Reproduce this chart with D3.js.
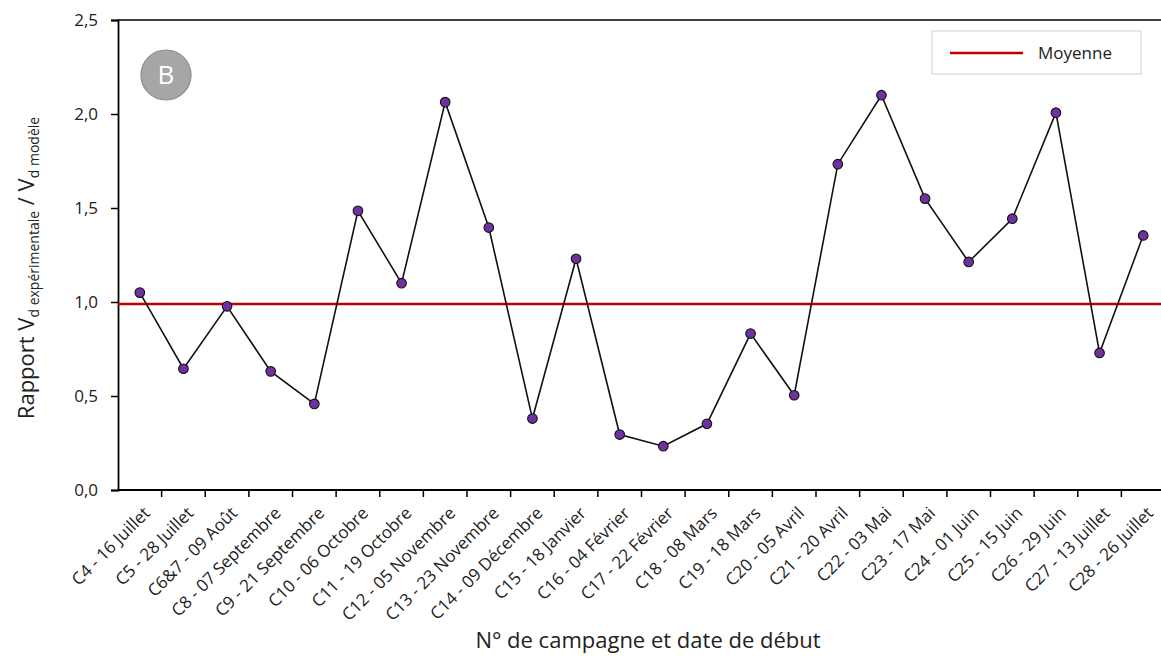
<!DOCTYPE html>
<html>
<head>
<meta charset="utf-8">
<script src="https://cdn.jsdelivr.net/npm/d3@7"></script>
<style>
  body { margin: 0; background: #fff; }
  text { font-family: "Open Sans", sans-serif; fill: #222; }
</style>
</head>
<body>
<div id="chart"></div>
<script>
// campagnes + date de debut
var campagnes = ["C4 - 16 Juillet", "C5 - 28 Juillet", "C6&7 - 09 Août", "C8 - 07 Septembre",
    "C9 - 21 Septembre", "C10 - 06 Octobre", "C11 - 19 Octobre", "C12 - 05 Novembre",
    "C13 - 23 Novembre", "C14 - 09 Décembre", "C15 - 18 Janvier", "C16 - 04 Février",
    "C17 - 22 Février", "C18 - 08 Mars", "C19 - 18 Mars", "C20 - 05 Avril",
    "C21 - 20 Avril", "C22 - 03 Mai", "C23 - 17 Mai", "C24 - 01 Juin",
    "C25 - 15 Juin", "C26 - 29 Juin", "C27 - 13 Juillet", "C28 - 26 Juillet"];

var rapport = [1.05, 0.645, 0.977, 0.631, 0.458, 1.485, 1.10, 2.063,
    1.396, 0.38, 1.23, 0.295, 0.233, 0.352, 0.832, 0.504,
    1.733, 2.10, 1.55, 1.213, 1.443, 2.007, 0.729, 1.354];

var moyenne = 0.99;
var yTicks = [0, 0.5, 1, 1.5, 2, 2.5];

var width = 1161,
    height = 657,
    mLeft = 118,
    mRight = 1165,
    mTop = 20,
    mBottom = 490;

var svg = d3.select("#chart")
    .append("svg")
    .attr("width", width)
    .attr("height", height);

var x = d3.scaleBand()
    .domain(campagnes)
    .range([mLeft, mRight]);

var y = d3.scaleLinear()
    .domain([0, 2.5])
    .range([mBottom, mTop]);

var fmt = function(d) { return d3.format(".1f")(d).replace(".", ","); };

// top border
svg.append("line")
    .attr("x1", mLeft).attr("x2", mRight)
    .attr("y1", mTop).attr("y2", mTop)
    .attr("stroke", "#000").attr("stroke-width", 1.5);

// y axis
var yAxis = svg.append("g")
    .attr("transform", "translate(" + mLeft + ",0)")
    .call(d3.axisLeft(y).tickValues(yTicks).tickFormat(fmt).tickSize(7).tickPadding(13));
yAxis.select(".domain").attr("stroke-width", 1.8);
yAxis.selectAll(".tick line").attr("stroke-width", 1.5);
yAxis.selectAll("text").style("font-size", "17px").attr("fill", "#222");

// x axis with ticks on band boundaries
var xAxis = svg.append("g")
    .attr("transform", "translate(0," + mBottom + ")");
xAxis.append("line")
    .attr("x1", mLeft).attr("x2", mRight)
    .attr("stroke", "#000").attr("stroke-width", 1.8);
xAxis.selectAll("line.tk")
    .data(campagnes.slice(1))
    .enter()
    .append("line")
    .attr("class", "tk")
    .attr("x1", function(d) { return x(d); })
    .attr("x2", function(d) { return x(d); })
    .attr("y1", 0).attr("y2", 7)
    .attr("stroke", "#000").attr("stroke-width", 1.5);
xAxis.selectAll("text.lbl")
    .data(campagnes)
    .enter()
    .append("text")
    .attr("class", "lbl")
    .attr("text-anchor", "end")
    .attr("transform", function(d) {
        return "translate(" + (x(d) + x.bandwidth() / 2 + 7) + ",20)rotate(-45)";
    })
    .attr("dy", "0.35em")
    .style("font-size", "17px")
    .text(function(d) { return d; });

// axis titles
svg.append("text")
    .attr("x", 648).attr("y", 648)
    .attr("text-anchor", "middle")
    .style("font-size", "22px")
    .text("N° de campagne et date de début");

var yt = svg.append("text")
    .attr("transform", "translate(34,268)rotate(-90)")
    .attr("text-anchor", "middle")
    .style("font-size", "22px");
yt.append("tspan").text("Rapport V");
yt.append("tspan").attr("dy", 5).style("font-size", "14px").text("d expérimentale");
yt.append("tspan").attr("dy", -5).text(" / V");
yt.append("tspan").attr("dy", 5).style("font-size", "14px").text("d modèle");

// mean line
svg.append("line")
    .attr("x1", mLeft).attr("x2", mRight)
    .attr("y1", y(moyenne)).attr("y2", y(moyenne))
    .attr("stroke", "#c00000").attr("stroke-width", 2.5);

// series line
var line = d3.line()
    .x(function(d, i) { return x(campagnes[i]) + x.bandwidth() / 2; })
    .y(function(d) { return y(d); });

svg.append("path")
    .datum(rapport)
    .attr("fill", "none")
    .attr("stroke", "#111")
    .attr("stroke-width", 1.6)
    .attr("d", line);

svg.selectAll("circle.pt")
    .data(rapport)
    .enter()
    .append("circle")
    .attr("class", "pt")
    .attr("cx", function(d, i) { return x(campagnes[i]) + x.bandwidth() / 2; })
    .attr("cy", function(d) { return y(d); })
    .attr("r", 4.8)
    .attr("fill", "#7030a0")
    .attr("stroke", "#111")
    .attr("stroke-width", 1.1);

// legend
var lg = svg.append("g");
lg.append("rect")
    .attr("x", 932).attr("y", 31)
    .attr("width", 209).attr("height", 43)
    .attr("fill", "#fff")
    .attr("stroke", "#d9d9d9").attr("stroke-width", 1.2);
lg.append("line")
    .attr("x1", 950).attr("x2", 1023)
    .attr("y1", 53).attr("y2", 53)
    .attr("stroke", "#c00000").attr("stroke-width", 2.5);
lg.append("text")
    .attr("x", 1038).attr("y", 53)
    .attr("dy", "0.35em")
    .style("font-size", "17px")
    .text("Moyenne");

// panel letter
svg.append("circle")
    .attr("cx", 166).attr("cy", 75)
    .attr("r", 25)
    .attr("fill", "#a6a6a6")
    .attr("stroke", "#8c8c8c").attr("stroke-width", 1.2);
svg.append("text")
    .attr("x", 166).attr("y", 75)
    .attr("dy", "0.36em")
    .attr("text-anchor", "middle")
    .style("font-size", "26px")
    .style("fill", "#fff")
    .text("B");
</script>
</body>
</html>
